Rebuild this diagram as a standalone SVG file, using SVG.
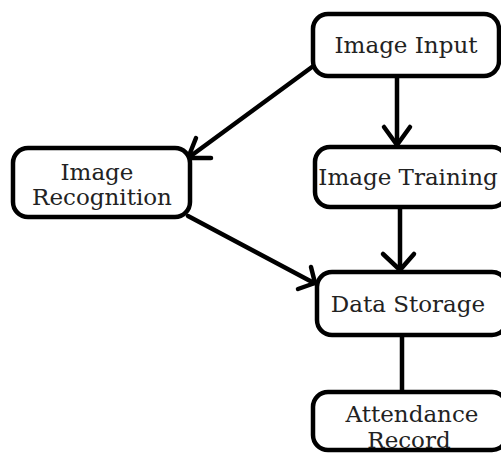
<svg xmlns="http://www.w3.org/2000/svg" width="501" height="453" viewBox="0 0 501 453">
<style>
.box{fill:#fff;stroke:#000;stroke-width:4.5}
.t{font-family:"DejaVu Serif","Liberation Serif",serif;font-size:23px;fill:#222;text-anchor:middle}
.c{fill:none;stroke:#000;stroke-width:4.5;stroke-linecap:round;stroke-linejoin:round}
</style>
<rect width="501" height="453" fill="#fff"/>
<g id="connectors">
<path class="c" d="M312,67 L188,158"/>
<path class="c" d="M196,138 L188,158 L211,158"/>
<path class="c" d="M397,76 L397,145"/>
<path class="c" d="M384,127 L397,145 L410,127"/>
<path class="c" d="M188,216 L314,283"/>
<path class="c" d="M311,267 L315,283 L298,289"/>
<path class="c" d="M400,207 L400,270"/>
<path class="c" d="M383,254 L400,270 L414,254"/>
<path class="c" d="M402,335 L402,392"/>
</g>
<g id="image-input">
<rect class="box" x="313" y="14" width="186" height="62" rx="15"/>
<text class="t" x="406" y="53">Image Input</text>
</g>
<g id="image-recognition">
<rect class="box" x="13" y="148" width="177" height="69" rx="15"/>
<text class="t" x="97" y="180">Image</text>
<text class="t" x="102" y="205">Recognition</text>
</g>
<g id="image-training">
<rect class="box" x="315" y="147" width="192" height="60" rx="15"/>
<text class="t" x="408" y="185">Image Training</text>
</g>
<g id="data-storage">
<rect class="box" x="317" y="272" width="190" height="63" rx="15"/>
<text class="t" x="408" y="312">Data Storage</text>
</g>
<g id="attendance-record">
<rect class="box" x="313" y="392" width="194" height="58" rx="15"/>
<text class="t" x="412" y="422">Attendance</text>
<text class="t" x="409" y="448">Record</text>
</g>
</svg>
